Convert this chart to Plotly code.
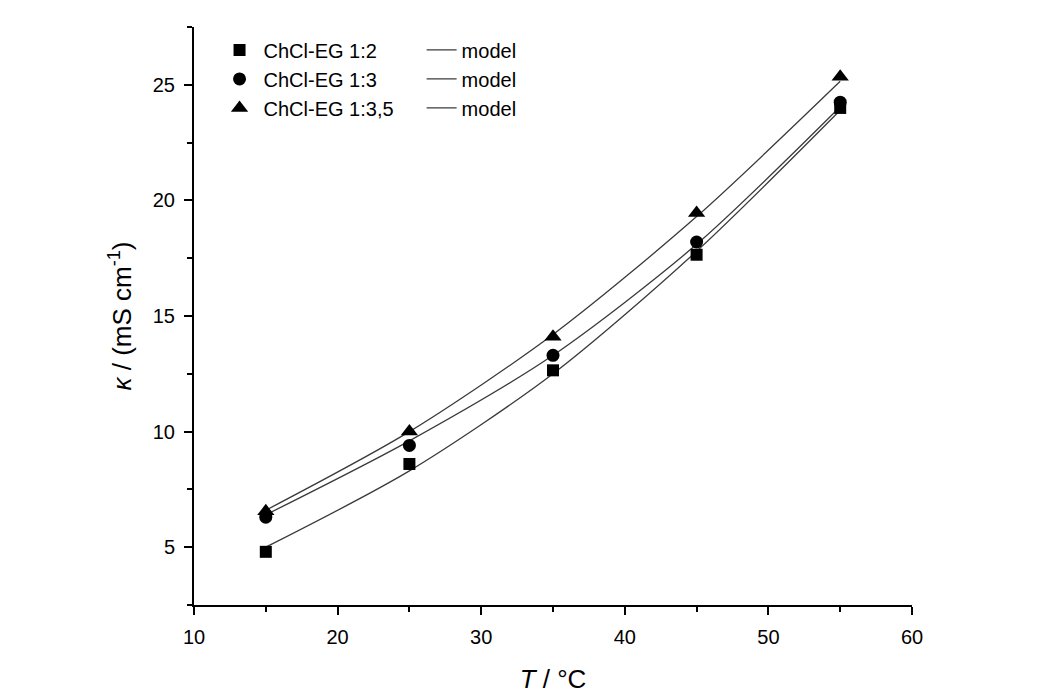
import plotly.graph_objects as go

# Temperatures (°C)
temperature = [15, 25, 35, 45, 55]

# Measured conductivities (mS cm-1)
kappa_12 = [4.8, 8.6, 12.65, 17.65, 24.0]
kappa_13 = [6.3, 9.4, 13.3, 18.2, 24.25]
kappa_135 = [6.55, 10.0, 14.1, 19.45, 25.35]

# Model values (mS cm-1)
model_12 = [5.0, 8.3, 12.5, 17.8, 23.9]
model_13 = [6.4, 9.6, 13.3, 18.1, 24.05]
model_135 = [6.6, 10.0, 14.2, 19.3, 25.15]

series_names = ["ChCl-EG 1:2", "ChCl-EG 1:3", "ChCl-EG 1:3,5"]
model_name = "model"

x_ticks = [10, 20, 30, 40, 50, 60]
y_ticks = [5, 10, 15, 20, 25]

FONT = "Liberation Sans, Arial, sans-serif"
LINE_COLOR = "#3a3a3a"

fig = go.Figure()

symbols = ["square", "circle", "triangle-up"]
sizes = [12, 13, 15]
measured = [kappa_12, kappa_13, kappa_135]
models = [model_12, model_13, model_135]

for name, m in zip(series_names, models):
    fig.add_trace(go.Scatter(
        x=temperature, y=m, mode="lines", name=model_name,
        line=dict(color=LINE_COLOR, width=1.3, shape="spline", smoothing=0.8),
        legend="legend2", showlegend=True,
    ))

for name, vals, sym, sz in zip(series_names, measured, symbols, sizes):
    fig.add_trace(go.Scatter(
        x=temperature, y=vals, mode="markers", name=name,
        marker=dict(symbol=sym, size=sz, color="black", line=dict(width=0)),
        legend="legend",
    ))

axis_common = dict(
    showline=True, linecolor="black", linewidth=2,
    ticks="outside", ticklen=8, tickwidth=2, tickcolor="black",
    showgrid=False, zeroline=False, mirror=False, automargin=False,
    ticklabelstandoff=5,
    tickfont=dict(family=FONT, size=20, color="black"),
)

fig.update_xaxes(
    range=[10, 60], tickvals=x_ticks,
    title=dict(text="<i>T</i> / °C", font=dict(family=FONT, size=26, color="black"), standoff=23),
    minor=dict(dtick=5, tick0=10, ticks="outside", ticklen=5, tickwidth=1.5, tickcolor="black"),
    **axis_common,
)
fig.update_yaxes(
    range=[2.5, 27.5], tickvals=y_ticks,
    title=dict(text="<i>κ</i> / (mS cm<sup>-1</sup>)", font=dict(family=FONT, size=26, color="black"), standoff=14),
    minor=dict(dtick=2.5, tick0=2.5, ticks="outside", ticklen=5, tickwidth=1.5, tickcolor="black"),
    **axis_common,
)

fig.update_layout(
    width=1044, height=695,
    margin=dict(l=194, r=132, t=27, b=90),
    paper_bgcolor="white", plot_bgcolor="white",
    font=dict(family=FONT, color="black"),
    legend=dict(
        x=0.030, y=0.994, xanchor="left", yanchor="top",
        bgcolor="rgba(0,0,0,0)", font=dict(family=FONT, size=20, color="black"),
        traceorder="normal", tracegroupgap=0, itemwidth=38,
    ),
    legend2=dict(
        x=0.317, y=0.994, xanchor="left", yanchor="top",
        bgcolor="rgba(0,0,0,0)", font=dict(family=FONT, size=20, color="black"),
        traceorder="normal", tracegroupgap=0,
    ),
)

fig.write_html(
    "out.html",
    config={"displayModeBar": False},
    post_script="document.body.style.margin='0';document.body.style.overflow='hidden';",
)
